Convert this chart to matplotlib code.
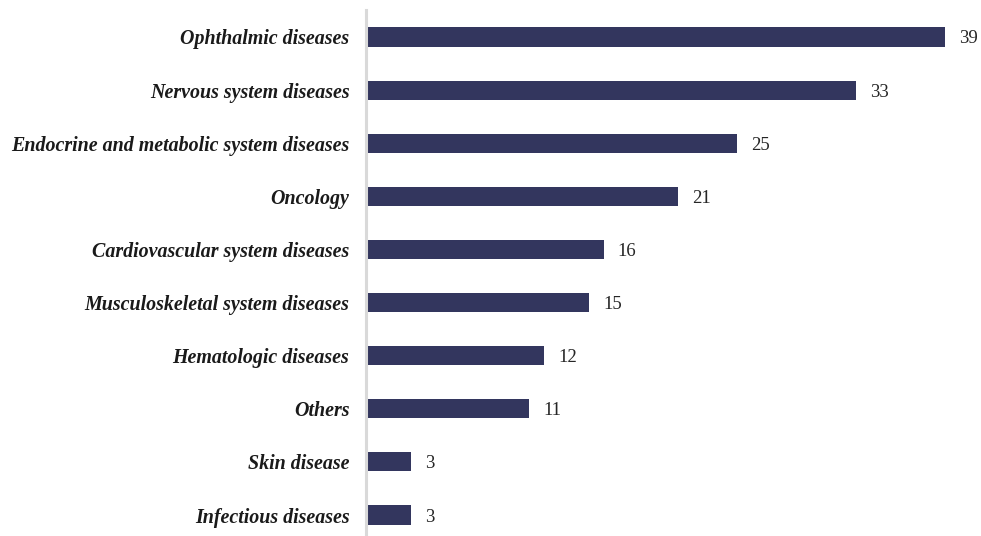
import matplotlib.pyplot as plt

categories = ["Infectious diseases", "Skin disease", "Others", "Hematologic diseases",
              "Musculoskeletal system diseases", "Cardiovascular system diseases",
              "Oncology", "Endocrine and metabolic system diseases",
              "Nervous system diseases", "Ophthalmic diseases"]
counts = [3, 3, 11, 12, 15, 16, 21, 25, 33, 39]

plt.rcParams['font.family'] = ['Liberation Serif', 'DejaVu Serif']

fig = plt.figure(figsize=(9.81, 5.36), dpi=100)
ax = fig.add_axes([366 / 981, 0, (975 - 366) / 981, (536 - 10) / 536])

pos = list(range(len(categories)))
bars = ax.barh(pos, counts, height=0.36, color="#33365e")

for b, v in zip(bars, counts):
    ax.text(b.get_width() + 0.95, b.get_y() + b.get_height() / 2, str(v),
            va="center_baseline", ha="left", fontsize=13.5, color="#262626")

ax.set_yticks(pos)
ax.set_yticklabels(categories, fontsize=14.4, fontweight="bold", fontstyle="italic",
                   color="#1a1a1a", va="center_baseline")
ax.tick_params(axis="y", length=0, pad=12)
ax.set_xticks([])
ax.set_xlim(0, 41.0)
ax.set_ylim(-0.395, 9.508)

for s in ["top", "right", "bottom"]:
    ax.spines[s].set_visible(False)
ax.spines["left"].set_color("#d9d9d9")
ax.spines["left"].set_linewidth(2.2)

fig.savefig("out.png", dpi=100)
